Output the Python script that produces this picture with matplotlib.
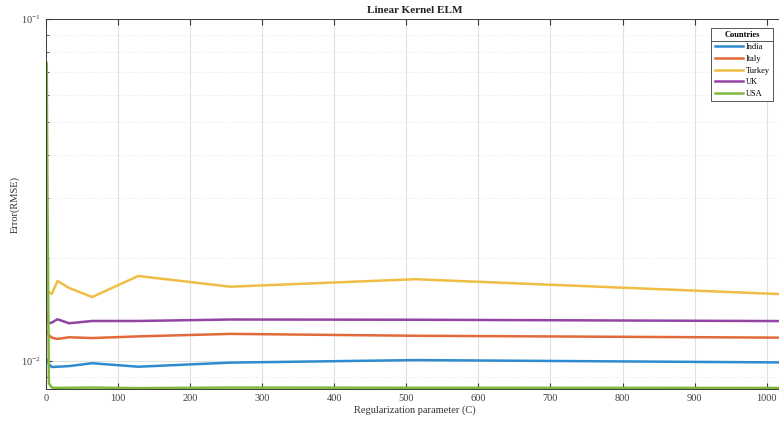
import numpy as np
import matplotlib
matplotlib.use("Agg")
import matplotlib.pyplot as plt
from matplotlib.ticker import FixedLocator, LogLocator, NullFormatter
from matplotlib.lines import Line2D

plt.rcParams["font.family"] = ["Liberation Serif", "DejaVu Serif"]
plt.rcParams["mathtext.fontset"] = "stix"

# Regularization parameter values (powers of two)
C = [1, 2, 4, 8, 16, 32, 64, 128, 256, 512, 1024]

# RMSE per country
india = [0.0101, 0.0100, 0.0098, 0.0096, 0.00962, 0.00966, 0.00985, 0.00962, 0.00989, 0.01006, 0.00990]
italy = [0.0122, 0.0121, 0.0119, 0.0117, 0.0116, 0.01173, 0.01167, 0.0118, 0.0120, 0.01185, 0.0117]
turkey = [0.01613, 0.0160, 0.0159, 0.01571, 0.01714, 0.01635, 0.01538, 0.01772, 0.01649, 0.01734, 0.01567]
uk = [0.01381, 0.0130, 0.01289, 0.01295, 0.01324, 0.01289, 0.01309, 0.01309, 0.01322, 0.0132, 0.01308]
usa = [0.0744, 0.030, 0.0086, 0.00836, 0.00834, 0.00835, 0.00836, 0.00833, 0.00836, 0.00835, 0.00834]

countries = ["India", "Italy", "Turkey", "UK", "USA"]
series = [india, italy, turkey, uk, usa]
colors = ["#2f8bd0", "#e26a3a", "#f0bd45", "#9245a3", "#80b83d"]

W, H = 779, 423
fig = plt.figure(figsize=(W / 100, H / 100), dpi=100)
ax = fig.add_axes([46 / W, 34 / H, (784 - 46) / W, (389 - 19) / H])

for name, vals, col in zip(countries, series, colors):
    ax.plot(C, vals, color=col, lw=1.8, label=name)

ax.set_yscale("log")
ax.set_xlim(0, 1024)
ax.set_ylim(0.00828, 0.1)

ax.xaxis.set_major_locator(FixedLocator(np.arange(0, 1001, 100)))
ax.yaxis.set_major_locator(LogLocator(base=10, numticks=5))
ax.yaxis.set_minor_locator(LogLocator(base=10, subs=np.arange(2, 10), numticks=20))
ax.yaxis.set_minor_formatter(NullFormatter())

ax.grid(True, which="major", color="#e0e0e0", lw=0.8)
ax.grid(True, which="minor", axis="y", color="#e3e3e3", lw=0.6, ls=":")
ax.set_axisbelow(True)

for s in ax.spines.values():
    s.set_color("#3a3a3a")
    s.set_linewidth(0.7)

ax.tick_params(which="both", direction="in", top=True, right=True,
               colors="#3a3a3a", labelcolor="#404040", labelsize=7.5)
ax.tick_params(which="major", length=4)
ax.tick_params(which="minor", length=2)

ax.set_xlabel("Regularization parameter (C)", fontsize=7.5, color="#333333", labelpad=2)
ax.set_ylabel("Error(RMSE)", fontsize=7.5, color="#333333", labelpad=1)
ax.set_title("Linear Kernel ELM", fontsize=8, fontweight="bold", color="#222222", pad=4)

leg = ax.legend(title="Countries", loc="upper right",
                bbox_to_anchor=(773 / W, 1 - 28 / H), bbox_transform=fig.transFigure,
                borderaxespad=0, fontsize=6, title_fontproperties={"weight": "bold", "size": 6},
                fancybox=False, framealpha=1, edgecolor="#555555",
                handlelength=3.4, handletextpad=0.3, labelspacing=0.45,
                borderpad=0.4)
leg.get_frame().set_linewidth(0.7)
leg._legend_box.align = "center"

# separator line under the legend title, like MATLAB draws it
fig.canvas.draw()
r = fig.canvas.get_renderer()
lb = leg.get_window_extent(r)
tb = leg.get_title().get_window_extent(r)
ysep = tb.y0 - 1.5
fig.add_artist(Line2D([lb.x0 / W, lb.x1 / W], [ysep / H, ysep / H],
                      transform=fig.transFigure, color="#555555", lw=0.7))

fig.savefig("out.png", dpi=100)
